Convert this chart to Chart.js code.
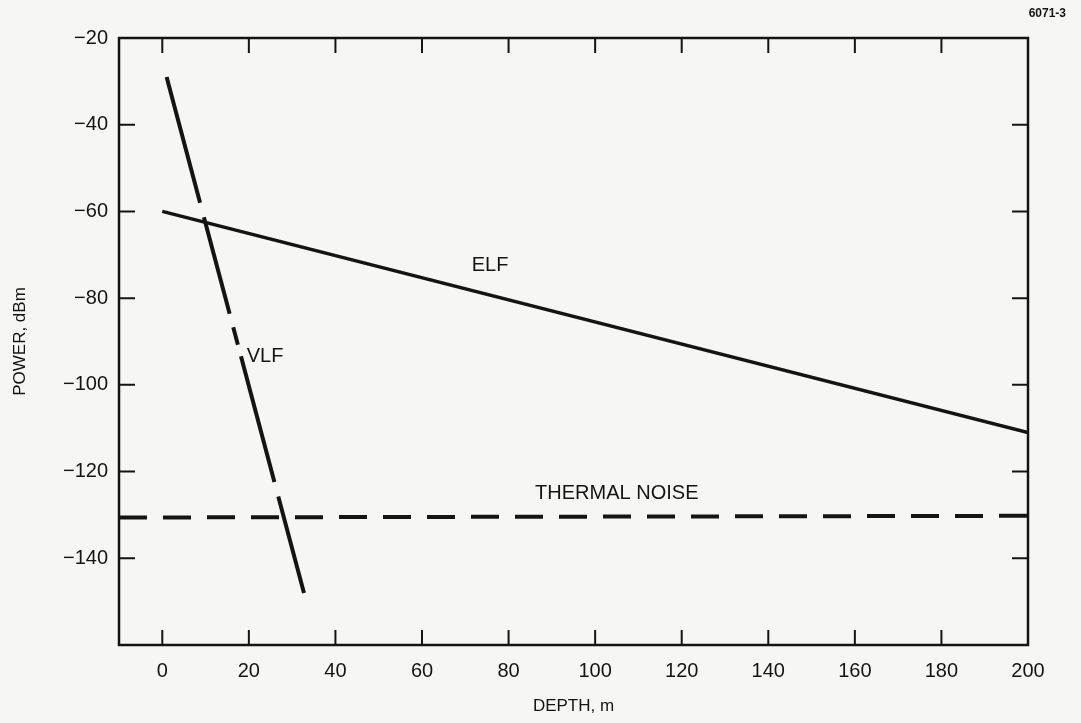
<!DOCTYPE html>
<html>
<head>
<meta charset="utf-8">
<script src="https://cdn.jsdelivr.net/npm/chart.js@4/dist/chart.umd.min.js"></script>
<style>
  html, body { margin: 0; padding: 0; background: #f6f6f4; }
  canvas { display: block; }
</style>
</head>
<body>
<canvas id="depthChart" width="1081" height="723"></canvas>
<script>
// values
const elfDepth = [0, 200];
const elfPower = [-60, -111];
const vlfDepth = [1, 33];
const vlfPower = [-29, -149];
const noiseDepth = [-10, 200];
const noisePower = [-130.6, -130.2];

const labelText = ['ELF', 'VLF', 'THERMAL NOISE'];
const labelDepth = [71.5, 19.5, 105];
const labelPower = [-72.5, -93.5, -125];
const labelAlign = ['left', 'left', 'center'];

const xTicks = [0, 20, 40, 60, 80, 100, 120, 140, 160, 180, 200];
const yTicks = [-20, -40, -60, -80, -100, -120, -140];

const ink = '#141414';
const font = '"Liberation Sans", Arial, sans-serif';

function pts(xs, ys) {
    return xs.map(function (x, i) { return { x: x, y: ys[i] }; });
}

// frame, inward tick marks and the in-plot captions
const framePlugin = {
    id: 'frame',
    afterDatasetsDraw: function (chart) {
        const c = chart.ctx;
        const a = chart.chartArea;
        const xs = chart.scales.x;
        const ys = chart.scales.y;
        c.save();
        c.strokeStyle = ink;
        c.lineWidth = 2.5;
        c.strokeRect(a.left, a.top, a.right - a.left, a.bottom - a.top);
        c.lineWidth = 2;
        c.beginPath();
        xTicks.forEach(function (v) {
            const px = xs.getPixelForValue(v);
            c.moveTo(px, a.bottom); c.lineTo(px, a.bottom - 15);
            c.moveTo(px, a.top); c.lineTo(px, a.top + 15);
        });
        yTicks.forEach(function (v) {
            const py = ys.getPixelForValue(v);
            c.moveTo(a.left, py); c.lineTo(a.left + 16, py);
            c.moveTo(a.right, py); c.lineTo(a.right - 16, py);
        });
        c.stroke();

        c.fillStyle = ink;
        c.font = '20px ' + font;
        c.textBaseline = 'middle';
        labelText.forEach(function (t, i) {
            c.textAlign = labelAlign[i];
            c.fillText(t, xs.getPixelForValue(labelDepth[i]), ys.getPixelForValue(labelPower[i]));
        });

        c.font = 'bold 12px ' + font;
        c.textAlign = 'right';
        c.fillText('6071-3', 1066, 14);
        c.restore();
    }
};

new Chart(document.getElementById('depthChart'), {
    type: 'line',
    data: {
        datasets: [{
            label: 'ELF',
            data: pts(elfDepth, elfPower),
            borderColor: ink,
            borderWidth: 3.5
        }, {
            label: 'VLF',
            data: pts(vlfDepth, vlfPower),
            borderColor: ink,
            borderWidth: 4,
            borderDash: [130, 15, 100, 14, 18, 12]
        }, {
            label: 'THERMAL NOISE',
            data: pts(noiseDepth, noisePower),
            borderColor: ink,
            borderWidth: 4,
            borderDash: [28, 16]
        }]
    },
    options: {
        responsive: false,
        animation: false,
        devicePixelRatio: 1,
        layout: { padding: { top: 38, right: 53, left: 0, bottom: 0 } },
        elements: { point: { radius: 0 }, line: { tension: 0, borderCapStyle: 'butt' } },
        plugins: {
            legend: { display: false },
            tooltip: { enabled: false }
        },
        scales: {
            x: {
                type: 'linear',
                min: -10,
                max: 200,
                afterFit: function (s) { s.height = 78; },
                grid: { display: false, drawTicks: false },
                border: { display: false },
                ticks: {
                    stepSize: 20,
                    includeBounds: false,
                    padding: 14,
                    color: ink,
                    font: { family: font, size: 20 },
                    maxRotation: 0
                },
                title: {
                    display: true,
                    text: 'DEPTH, m',
                    color: ink,
                    font: { family: font, size: 17 },
                    padding: { top: 0, bottom: 6 }
                }
            },
            y: {
                min: -160,
                max: -20,
                afterFit: function (s) { s.width = 119; },
                grid: { display: false, drawTicks: false },
                border: { display: false },
                ticks: {
                    stepSize: 20,
                    padding: 11,
                    color: ink,
                    font: { family: font, size: 20 },
                    callback: function (v) {
                        return v <= -160 ? '' : String(v).replace('-', '\u2212');
                    }
                },
                title: {
                    display: true,
                    text: 'POWER, dBm',
                    color: ink,
                    font: { family: font, size: 17 },
                    padding: { top: 10, bottom: 0 }
                }
            }
        }
    },
    plugins: [framePlugin]
});
</script>
</body>
</html>
